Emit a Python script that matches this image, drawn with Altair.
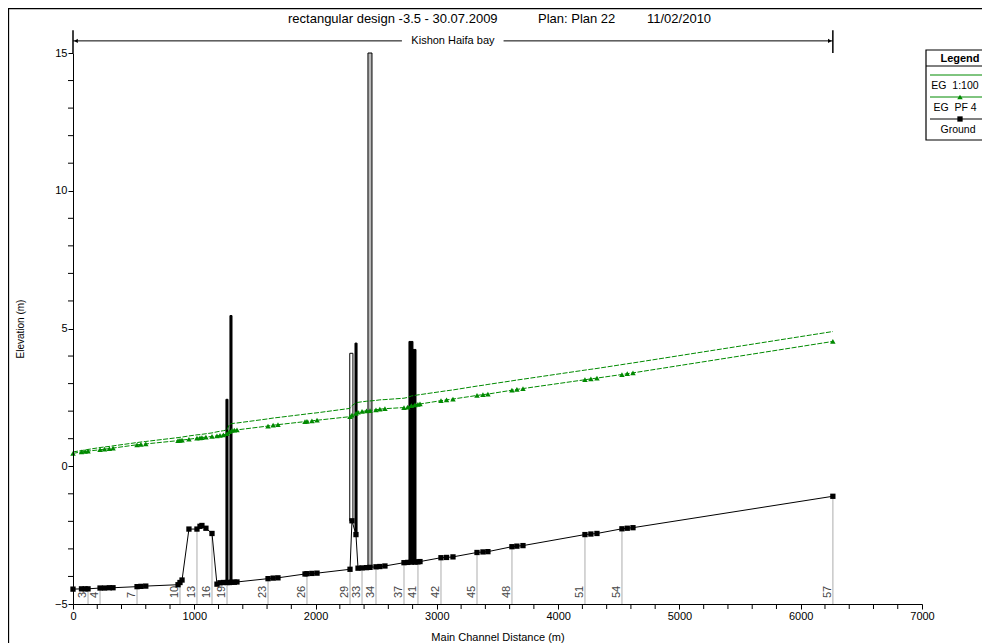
import altair as alt
import pandas as pd

# ---------------- data ----------------
station_x = [0, 70, 100, 124, 223, 260, 300, 330, 528, 560,
             600, 866, 882, 899, 956, 1022, 1047, 1063, 1096, 1146,
             1187, 1212, 1240, 1270, 1290, 1310, 1330, 1352, 1608, 1650,
             1690, 1913, 1929, 1970, 2012, 2284, 2300, 2333, 2350, 2383,
             2420, 2449, 2498, 2530, 2572, 2729, 2760, 2790, 2820, 2844,
             2861, 3034, 3080, 3133, 3331, 3380, 3421, 3619, 3660, 3710,
             4221, 4270, 4320, 4526, 4570, 4617, 6265]
ground = [-4.46, -4.45, -4.45, -4.45, -4.42, -4.42, -4.41, -4.41, -4.37, -4.36,
          -4.35, -4.30, -4.22, -4.13, -2.28, -2.28, -2.18, -2.15, -2.25, -2.44,
          -4.28, -4.23, -4.22, -4.22, -4.22, -4.21, -4.21, -4.20, -4.08, -4.06,
          -4.05, -3.91, -3.90, -3.89, -3.88, -3.74, -1.98, -2.48, -3.70, -3.69,
          -3.68, -3.67, -3.65, -3.64, -3.62, -3.50, -3.49, -3.48, -3.48, -3.47,
          -3.46, -3.32, -3.31, -3.29, -3.13, -3.11, -3.10, -2.92, -2.90, -2.88,
          -2.48, -2.46, -2.44, -2.27, -2.25, -2.23, -1.09]
eg_pf4 = [0.47, 0.52, 0.54, 0.55, 0.60, 0.62, 0.64, 0.66, 0.78, 0.79,
          0.81, 0.93, 0.94, 0.95, 0.98, 1.02, 1.03, 1.04, 1.06, 1.08,
          1.10, 1.12, 1.14, 1.18, 1.26, 1.30, 1.31, 1.32, 1.46, 1.49,
          1.51, 1.62, 1.63, 1.65, 1.67, 1.80, 1.86, 1.92, 1.96, 1.99,
          2.01, 2.02, 2.05, 2.07, 2.09, 2.13, 2.15, 2.20, 2.23, 2.25,
          2.26, 2.38, 2.41, 2.44, 2.57, 2.60, 2.62, 2.76, 2.79, 2.82,
          3.14, 3.17, 3.20, 3.33, 3.36, 3.39, 4.53]
eg_100 = [0.52, 0.57, 0.59, 0.61, 0.68, 0.70, 0.72, 0.74, 0.86, 0.88,
          0.90, 1.04, 1.05, 1.06, 1.10, 1.14, 1.15, 1.16, 1.18, 1.21,
          1.25, 1.27, 1.29, 1.32, 1.52, 1.55, 1.56, 1.57, 1.72, 1.75,
          1.77, 1.89, 1.90, 1.92, 1.94, 2.10, 2.20, 2.30, 2.32, 2.34,
          2.36, 2.37, 2.39, 2.41, 2.42, 2.47, 2.50, 2.55, 2.57, 2.59,
          2.60, 2.71, 2.74, 2.77, 2.91, 2.94, 2.97, 3.10, 3.13, 3.16,
          3.49, 3.52, 3.55, 3.69, 3.72, 3.75, 4.89]

label_names = ["3", "4", "7", "10", "13", "16", "19", "23", "26", "29",
               "33", "34", "37", "41", "42", "45", "48", "51", "54", "57"]
label_x = [124, 223, 528, 882, 1022, 1146, 1270, 1608, 1929, 2284,
           2383, 2498, 2729, 2844, 3034, 3331, 3619, 4221, 4526, 6265]

struct_x1 = [1261, 1294, 2282, 2325, 2432, 2770, 2803]
struct_x2 = [1278, 1311, 2308, 2342, 2465, 2803, 2828]
struct_bottom = [-4.22, -4.22, -1.98, -2.48, -3.67, -3.48, -3.48]
struct_top = [2.43, 5.47, 4.10, 4.47, 15.0, 4.53, 4.24]
struct_kind = ["deck", "deck", "open", "deck", "pier", "deck", "deck"]

x_label_ticks = [0, 1000, 2000, 3000, 4000, 5000, 6000, 7000]
x_minor_ticks = [v for v in range(0, 7001, 200) if v % 1000]
y_label_ticks = [-5, 0, 5, 10, 15]
y_minor_ticks = [v for v in range(-5, 16) if v % 5]

reach_name = "Kishon Haifa bay"
reach_start, reach_end = 0, 6265
title_parts = ["rectangular design -3.5 - 30.07.2009", "Plan: Plan 22", "11/02/2010"]
legend_labels = ["Legend", "EG\u00a0\u00a01:100", "EG\u00a0\u00a0PF 4", "Ground"]

# ---------------- layout / style ----------------
W, H = 849, 551
PAD = {"left": 65, "top": 45, "right": 60, "bottom": 39}
FONT = "Liberation Sans"
GREEN = "#008a00"

df = pd.DataFrame({"x": station_x, "ground": ground, "pf4": eg_pf4, "eg100": eg_100})
gmap = dict(zip(station_x, ground))
lab = pd.DataFrame({"x": label_x, "name": label_names,
                    "ground": [gmap[v] for v in label_x]})
st = pd.DataFrame({"x1": struct_x1, "x2": struct_x2, "bottom": struct_bottom,
                   "top": struct_top, "kind": struct_kind})

xs = alt.Scale(domain=[0, 7000], nice=False, zero=False)
ys = alt.Scale(domain=[-5, 15], nice=False, zero=False)

x_axis = alt.Axis(values=x_label_ticks, format="d", tickSize=5, labelPadding=1,
                  labelFont=FONT, labelFontSize=11, labelColor="black",
                  labelFlush=False, labelOverlap=False, domainColor="black",
                  tickColor="black", grid=False, titleFont=FONT, titleFontSize=11,
                  titleFontWeight="normal", titleColor="black",
                  titleX=424.5, titleY=33, titleAlign="center",
                  titleBaseline="middle", zindex=1)
y_axis = alt.Axis(values=y_label_ticks, tickSize=5, labelPadding=1, labelFont=FONT,
                  labelFontSize=11, labelColor="black", labelFlush=False,
                  labelOverlap=False, domainColor="black", tickColor="black",
                  grid=False, titleFont=FONT, titleFontSize=10,
                  titleFontWeight="normal", titleColor="black", titleAngle=270,
                  titleX=-53, titleY=275.5, titleAlign="center",
                  titleBaseline="middle", zindex=1)


def X(f):
    return alt.X(f, type="quantitative", scale=xs, axis=x_axis,
                 title="Main Channel Distance (m)")


def Y(f):
    return alt.Y(f, type="quantitative", scale=ys, axis=y_axis,
                 title="Elevation (m)")


def one(s=""):
    return alt.Chart(pd.DataFrame({"t": [s]}))


def vtext(s, x, y, **kw):
    return one(s).mark_text(font=FONT, color="black", **kw).encode(
        x=alt.value(x), y=alt.value(y), text="t:N")


layers = []

# outer frame
layers.append(one().mark_rect(fill="white", fillOpacity=0, stroke="black", strokeWidth=1.3).encode(
    x=alt.value(-64.5), x2=alt.value(930), y=alt.value(-44.5), y2=alt.value(620)))

# minor ticks
layers.append(alt.Chart(pd.DataFrame({"v": x_minor_ticks})).mark_rule(color="black", strokeWidth=1).encode(
    x=X("v"), y=alt.value(H), y2=alt.value(H + 5)))
layers.append(alt.Chart(pd.DataFrame({"v": y_minor_ticks})).mark_rule(color="black", strokeWidth=1).encode(
    y=Y("v"), x=alt.value(-5), x2=alt.value(0)))

# gray station lines and labels
layers.append(alt.Chart(lab).mark_rule(color="#c8c8c8", strokeWidth=1.5).encode(
    x=X("x"), y=Y("ground"), y2=alt.datum(-5)))
layers.append(alt.Chart(lab).mark_text(angle=270, align="left", baseline="bottom",
                                       dx=6, fontSize=11, font=FONT, color="#444444").encode(
    x=X("x"), y=alt.datum(-5), text="name:N"))

# structures
layers.append(alt.Chart(st).mark_rect(stroke="black", strokeWidth=1).encode(
    x=X("x1"), x2="x2", y=Y("bottom"), y2="top",
    fill=alt.Fill("kind:N", scale=alt.Scale(domain=["deck", "open", "pier"],
                                            range=["black", "white", "#b8b8b8"]),
                  legend=None)))

# energy grade lines
layers.append(alt.Chart(df).mark_line(color=GREEN, strokeWidth=1, strokeDash=[5, 1.5]).encode(
    x=X("x"), y=Y("eg100")))
layers.append(alt.Chart(df).mark_line(color=GREEN, strokeWidth=1, strokeDash=[5, 1.5]).encode(
    x=X("x"), y=Y("pf4")))
layers.append(alt.Chart(df).mark_point(shape="triangle-up", filled=True, color=GREEN,
                                       size=30, opacity=1).encode(x=X("x"), y=Y("pf4")))

# ground
layers.append(alt.Chart(df).mark_line(color="black", strokeWidth=1).encode(
    x=X("x"), y=Y("ground")))
layers.append(alt.Chart(df).mark_square(color="black", size=28, opacity=1).encode(
    x=X("x"), y=Y("ground")))

# reach arrow annotation
arrow = pd.DataFrame({"x1": [reach_start, 3550], "x2": [2712, reach_end]})
layers.append(alt.Chart(arrow).mark_rule(color="black", strokeWidth=1).encode(
    x=X("x1"), x2="x2", y=alt.datum(15.44)))
ends = pd.DataFrame({"x": [reach_start, reach_end]})
layers.append(alt.Chart(ends).mark_rule(color="black", strokeWidth=1.5).encode(
    x=X("x"), y=alt.datum(15.0), y2=alt.datum(15.83)))
layers.append(alt.Chart(pd.DataFrame({"x": [reach_start]})).mark_point(
    shape="triangle-left", filled=True, color="black", size=18, opacity=1, xOffset=3).encode(
    x=X("x"), y=alt.datum(15.44)))
layers.append(alt.Chart(pd.DataFrame({"x": [reach_end]})).mark_point(
    shape="triangle-right", filled=True, color="black", size=18, opacity=1, xOffset=-3).encode(
    x=X("x"), y=alt.datum(15.44)))
layers.append(alt.Chart(pd.DataFrame({"x": [(reach_start + reach_end) / 2], "t": [reach_name]}))
              .mark_text(font=FONT, fontSize=11, color="black").encode(
    x=X("x"), y=alt.datum(15.44), text="t:N"))

# title
layers.append(vtext(title_parts[0], 215, -34, fontSize=13, align="left", baseline="middle"))
layers.append(vtext(title_parts[1], 465, -34, fontSize=13, align="left", baseline="middle"))
layers.append(vtext(title_parts[2], 574, -34, fontSize=13, align="left", baseline="middle"))

# legend box
layers.append(one().mark_rect(fill="white", stroke="black", strokeWidth=1.2).encode(
    x=alt.value(853), x2=alt.value(935), y=alt.value(-3), y2=alt.value(87)))
layers.append(one().mark_rule(color="black", strokeWidth=1).encode(
    x=alt.value(853), x2=alt.value(935), y=alt.value(13)))
layers.append(vtext(legend_labels[0], 887, 6, fontSize=11, fontWeight="bold",
                    align="center", baseline="middle"))
layers.append(one().mark_rule(color=GREEN, strokeWidth=1).encode(
    x=alt.value(857), x2=alt.value(935), y=alt.value(22)))
layers.append(vtext(legend_labels[1], 882, 33, fontSize=10.5, align="center", baseline="middle"))
layers.append(one().mark_rule(color=GREEN, strokeWidth=1).encode(
    x=alt.value(857), x2=alt.value(935), y=alt.value(44)))
layers.append(one().mark_point(shape="triangle-up", filled=True, color=GREEN, size=30,
                               opacity=1).encode(x=alt.value(887), y=alt.value(44)))
layers.append(vtext(legend_labels[2], 882, 55, fontSize=10.5, align="center", baseline="middle"))
layers.append(one().mark_rule(color="black", strokeWidth=1).encode(
    x=alt.value(857), x2=alt.value(935), y=alt.value(66)))
layers.append(one().mark_square(color="black", size=28, opacity=1).encode(
    x=alt.value(887), y=alt.value(66)))
layers.append(vtext(legend_labels[3], 885, 77, fontSize=10.5, align="center", baseline="middle"))

chart = alt.layer(*layers).properties(
    width=W, height=H, padding=PAD,
    autosize=alt.AutoSizeParams(type="none"),
    background="white",
).configure_view(stroke="transparent")

chart.save("out.html", embed_options={"renderer": "svg", "actions": False})
